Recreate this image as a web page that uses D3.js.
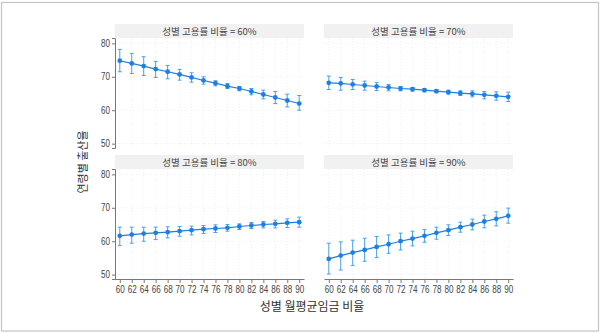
<!DOCTYPE html>
<html>
<head>
<meta charset="utf-8">
<script src="https://cdn.jsdelivr.net/npm/d3@7"></script>
<style>
  body { margin: 0; background: #fff; }
  svg { display: block; font-family: "Liberation Sans", Arial, sans-serif; }
  .strip text, .title { font-family: "Noto Sans CJK KR", sans-serif; }
</style>
</head>
<body>
<svg id="chart" width="600" height="333"></svg>
<script>
'use strict';

// x values: gender wage ratio
var wageRatio = [60, 62, 64, 66, 68, 70, 72, 74, 76, 78, 80, 82, 84, 86, 88, 90];
var panelLabels = ['성별 고용률 비율 = 60%', '성별 고용률 비율 = 70%', '성별 고용률 비율 = 80%', '성별 고용률 비율 = 90%'];

// estimates and CI bounds, one array per panel
var est60 = [74.8, 74.0, 73.2, 72.3, 71.5, 70.7, 69.8, 68.9, 68.1, 67.2, 66.5, 65.6, 64.7, 63.8, 62.9, 62.0];
var hi60  = [78.2, 77.0, 76.0, 74.6, 73.4, 72.2, 71.2, 70.0, 68.8, 68.0, 67.1, 66.5, 66.0, 65.6, 64.8, 64.4];
var lo60  = [71.5, 71.0, 70.4, 69.8, 69.4, 69.0, 68.4, 67.8, 67.3, 66.5, 65.8, 64.6, 63.4, 62.0, 61.0, 60.0];

var est70 = [68.2, 68.0, 67.7, 67.4, 67.1, 66.8, 66.5, 66.3, 66.0, 65.7, 65.4, 65.1, 64.9, 64.6, 64.3, 64.0];
var hi70  = [70.2, 69.8, 69.2, 68.7, 68.3, 67.7, 67.1, 66.8, 66.5, 66.2, 66.0, 65.8, 65.8, 65.6, 65.5, 65.4];
var lo70  = [66.2, 66.0, 66.2, 66.0, 65.9, 65.8, 65.8, 65.7, 65.5, 65.2, 64.8, 64.4, 64.0, 63.4, 63.0, 62.6];

var est80 = [61.6, 62.0, 62.3, 62.5, 62.7, 63.0, 63.3, 63.6, 63.8, 64.0, 64.4, 64.7, 65.0, 65.2, 65.5, 65.7];
var hi80  = [64.2, 64.2, 64.2, 64.2, 64.3, 64.4, 64.5, 64.7, 64.9, 65.0, 65.2, 65.6, 65.9, 66.3, 66.7, 67.2];
var lo80  = [58.7, 59.4, 60.0, 60.5, 61.0, 61.5, 61.9, 62.3, 62.6, 63.0, 63.5, 63.8, 64.0, 64.0, 64.1, 64.2];

var est90 = [54.7, 55.7, 56.6, 57.4, 58.3, 59.1, 60.0, 60.8, 61.6, 62.5, 63.3, 64.2, 65.0, 65.9, 66.7, 67.6];
var hi90  = [59.4, 59.8, 60.3, 60.9, 61.4, 61.9, 62.4, 63.0, 63.5, 64.2, 64.9, 65.7, 66.6, 67.8, 68.8, 69.9];
var lo90  = [50.2, 51.4, 52.7, 54.0, 55.1, 56.4, 57.4, 58.6, 59.7, 60.6, 61.7, 62.7, 63.4, 64.0, 64.6, 65.4];

var yTicks = [50, 60, 70, 80];
var xTitle = '성별 월평균임금 비율';
var yTitle = '연령별 출산율';

var panels = [
    { est: est60, hi: hi60, lo: lo60, col: 0, row: 0 },
    { est: est70, hi: hi70, lo: lo70, col: 1, row: 0 },
    { est: est80, hi: hi80, lo: lo80, col: 0, row: 1 },
    { est: est90, hi: hi90, lo: lo90, col: 1, row: 1 }
];

var svg = d3.select('#chart');

// outer frame
svg.append('rect')
    .attr('x', 1.5).attr('y', 2.5)
    .attr('width', 597).attr('height', 328.5)
    .attr('fill', 'none').attr('stroke', '#c4c4c4').attr('stroke-width', 1.2);

var colX = [115, 324], panelW = 189;
var rowY = [38, 169], panelH = 110, stripH = 14;

var lineColor = '#1f7fe0', barColor = '#4aa0ec';

// squeeze tick labels to look like the narrow font of the original
function narrow(sel) {
    sel.selectAll('text')
        .attr('font-size', 10).attr('fill', '#444')
        .attr('textLength', 9).attr('lengthAdjust', 'spacingAndGlyphs');
}

panels.forEach(function (p, i) {
    var x0 = colX[p.col], y0 = rowY[p.row];
    var g = svg.append('g').attr('transform', 'translate(' + x0 + ',' + y0 + ')');

    var x = d3.scaleLinear().domain([59.2, 90.8]).range([0, panelW]);
    var y = d3.scaleLinear().domain([48.7, 81.6]).range([panelH, 0]);

    // strip header
    var strip = g.append('g').attr('class', 'strip');
    strip.append('rect')
        .attr('x', 0).attr('y', -stripH)
        .attr('width', panelW).attr('height', stripH)
        .attr('fill', '#f1f1f1');
    strip.append('text')
        .attr('x', panelW / 2).attr('y', -3.5)
        .attr('text-anchor', 'middle')
        .attr('font-size', 9.5).attr('fill', '#444')
        .text(panelLabels[i]);

    // faint grid
    g.append('g').selectAll('line').data(wageRatio).join('line')
        .attr('x1', function (d) { return x(d); }).attr('x2', function (d) { return x(d); })
        .attr('y1', 0).attr('y2', panelH)
        .attr('stroke', '#f0f0f0').attr('stroke-dasharray', '1,2');
    g.append('g').selectAll('line').data(yTicks).join('line')
        .attr('x1', 0).attr('x2', panelW)
        .attr('y1', function (d) { return y(d); }).attr('y2', function (d) { return y(d); })
        .attr('stroke', '#f0f0f0').attr('stroke-dasharray', '1,2');

    // axes
    if (p.col === 0) {
        var ya = g.append('g').call(d3.axisLeft(y).tickValues(yTicks).tickSize(3).tickPadding(2));
        ya.select('.domain').attr('stroke', '#777');
        ya.selectAll('.tick line').attr('stroke', '#777');
        narrow(ya);
    }
    if (p.row === 1) {
        var xa = g.append('g').attr('transform', 'translate(0,' + panelH + ')')
            .call(d3.axisBottom(x).tickValues(wageRatio).tickSize(4).tickPadding(3).tickSizeOuter(0));
        xa.select('.domain').attr('stroke', '#777');
        xa.selectAll('.tick line').attr('stroke', '#777');
        narrow(xa);
    }

    var idx = d3.range(wageRatio.length);

    // error bars
    var bars = g.append('g').attr('stroke', barColor).attr('stroke-width', 1);
    bars.selectAll('line.v').data(idx).join('line').attr('class', 'v')
        .attr('x1', function (j) { return x(wageRatio[j]); })
        .attr('x2', function (j) { return x(wageRatio[j]); })
        .attr('y1', function (j) { return y(p.hi[j]); })
        .attr('y2', function (j) { return y(p.lo[j]); });
    [p.hi, p.lo].forEach(function (arr) {
        bars.append('g').selectAll('line').data(idx).join('line')
            .attr('x1', function (j) { return x(wageRatio[j]) - 2; })
            .attr('x2', function (j) { return x(wageRatio[j]) + 2; })
            .attr('y1', function (j) { return y(arr[j]); })
            .attr('y2', function (j) { return y(arr[j]); });
    });

    // line and points
    g.append('path')
        .datum(idx)
        .attr('fill', 'none').attr('stroke', lineColor).attr('stroke-width', 1.2)
        .attr('d', d3.line()
            .x(function (j) { return x(wageRatio[j]); })
            .y(function (j) { return y(p.est[j]); }));
    g.append('g').selectAll('circle').data(idx).join('circle')
        .attr('cx', function (j) { return x(wageRatio[j]); })
        .attr('cy', function (j) { return y(p.est[j]); })
        .attr('r', 2.4).attr('fill', lineColor);
});

// axis titles
svg.append('text').attr('class', 'title')
    .attr('x', 312).attr('y', 311)
    .attr('text-anchor', 'middle').attr('font-size', 12).attr('fill', '#333')
    .text(xTitle);
svg.append('text').attr('class', 'title')
    .attr('transform', 'translate(87,162) rotate(-90)')
    .attr('text-anchor', 'middle').attr('font-size', 11).attr('fill', '#333')
    .text(yTitle);
</script>
</body>
</html>
